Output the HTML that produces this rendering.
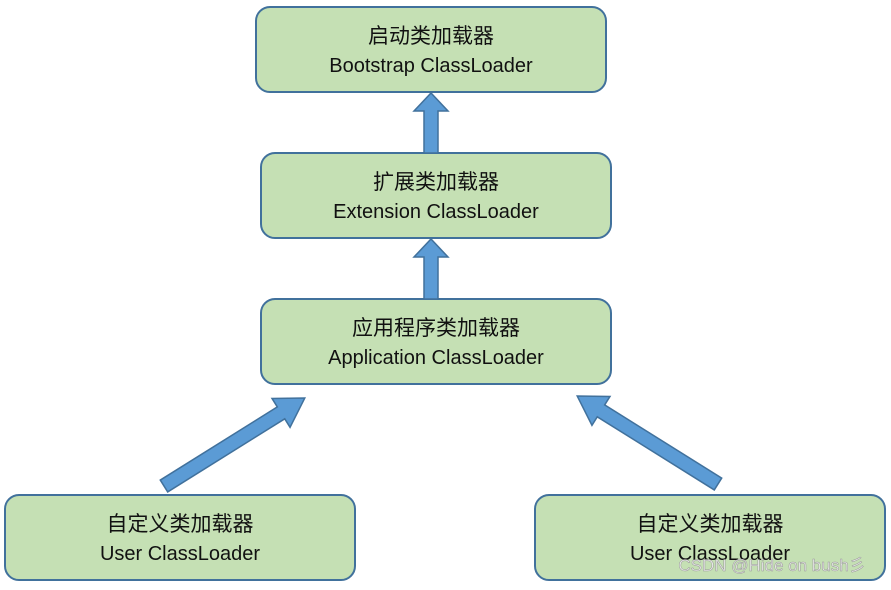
<!DOCTYPE html>
<html><head><meta charset="utf-8"><style>
body{margin:0;background:#fff;}
svg text{font-family:"Liberation Sans","Noto Sans CJK SC",sans-serif;fill:#111;text-anchor:middle;}
</style></head><body>
<svg width="891" height="585" viewBox="0 0 891 585" xmlns="http://www.w3.org/2000/svg">
<g fill="#c5e0b4" stroke="#41719c" stroke-width="2">
<rect x="256" y="7" width="350" height="85" rx="14"/>
<rect x="261" y="153" width="350" height="85" rx="14"/>
<rect x="261" y="299" width="350" height="85" rx="14"/>
<rect x="5" y="495" width="350" height="85" rx="14"/>
<rect x="535" y="495" width="350" height="85" rx="14"/>
</g>
<g fill="#5b9bd5" stroke="#41719c" stroke-width="1.5">
<polygon points="424,153 424,111 414,111 431,93 448,111 438,111 438,153"/>
<polygon points="424,299 424,257 414,257 431,239 448,257 438,257 438,299"/>
<polygon points="0,-7 138,-7 138,-17 166,0 138,17 138,7 0,7" transform="translate(164,486) rotate(-32)"/>
<polygon points="0,-7 138,-7 138,-17 166,0 138,17 138,7 0,7" transform="translate(718,484) rotate(-148)"/>
</g>
<g font-size="21">
<text x="431" y="43">启动类加载器</text>
<text x="436" y="189">扩展类加载器</text>
<text x="436" y="335">应用程序类加载器</text>
<text x="180" y="531">自定义类加载器</text>
<text x="710" y="531">自定义类加载器</text>
</g>
<g font-size="20">
<text x="431" y="72">Bootstrap ClassLoader</text>
<text x="436" y="218">Extension ClassLoader</text>
<text x="436" y="364">Application ClassLoader</text>
<text x="180" y="560">User ClassLoader</text>
<text x="710" y="560">User ClassLoader</text>
</g>
<text x="772" y="571" font-size="17" style="fill:#e8e8e8;stroke:#999;stroke-width:0.5">CSDN @Hide on bush彡</text>
</svg>
</body></html>
